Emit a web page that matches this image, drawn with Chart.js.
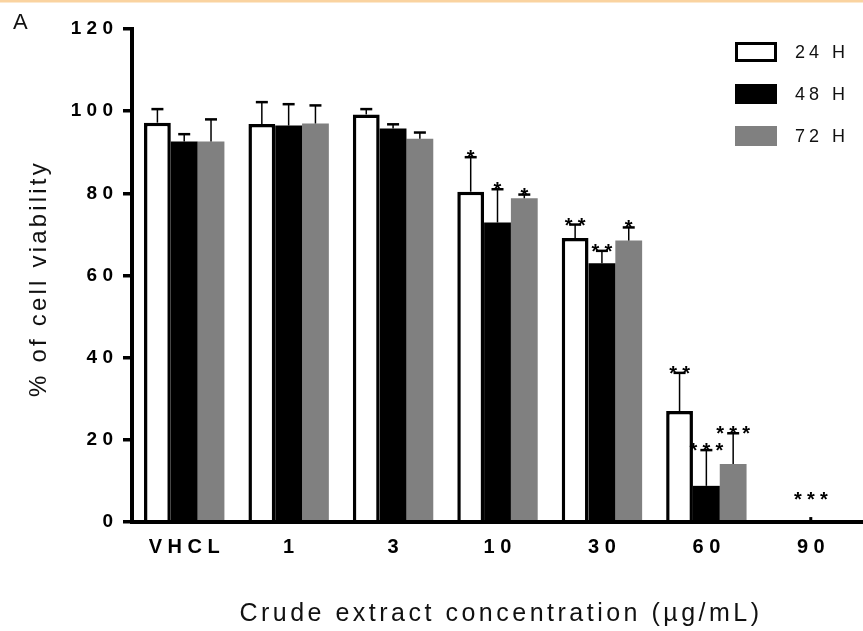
<!DOCTYPE html>
<html>
<head>
<meta charset="utf-8">
<script src="https://cdn.jsdelivr.net/npm/chart.js@4.4.1/dist/chart.umd.min.js"></script>
<style>
  html, body { margin: 0; padding: 0; background: #fff; }
  canvas { display: block; }
</style>
</head>
<body>
<canvas id="myChart" width="863" height="631"></canvas>
<script>
// data
const categories = ['VHCL', '1', '3', '10', '30', '60', '90'];
const seriesNames = ['24 H', '48 H', '72 H'];
const values24 = [97.2, 96.9, 99.2, 80.4, 69.1, 27.0, 0];
const values48 = [92.6, 96.5, 95.8, 72.9, 63.0, 8.8, 0];
const values72 = [92.6, 97.0, 93.3, 78.8, 68.5, 14.1, 0];
const err24 = [3.3, 5.3, 1.3, 8.4, 3.3, 9.3, 0];
const err48 = [1.8, 5.2, 1.0, 8.1, 3.0, 8.7, 1.2];
const err72 = [5.4, 4.4, 1.5, 0.9, 3.2, 7.5, 0];
const stars24 = ['', '', '', '*', '**', '**', ''];
const stars48 = ['', '', '', '*', '**', '***', '***'];
const stars72 = ['', '', '', '*', '*', '***', ''];
const yTicks = [0, 20, 40, 60, 80, 100, 120];

const FONT = "'Liberation Sans', Arial, sans-serif";
const errors = [err24, err48, err72];
const stars = [stars24, stars48, stars72];
const swatches = [
    { fill: '#ffffff', border: '#000000', width: 3 },
    { fill: '#000000', border: '#000000', width: 0 },
    { fill: '#808080', border: '#808080', width: 0 }
];

// error bars, asterisks, legend, titles
const overlay = {
    id: 'overlay',
    beforeDraw(chart) {
        const ctx = chart.ctx;
        ctx.save();
        ctx.fillStyle = '#fad3a0';
        ctx.fillRect(0, 0, chart.width, 2.5);
        ctx.restore();
    },
    afterDatasetsDraw(chart) {
        const ctx = chart.ctx;
        const yScale = chart.scales.y;
        const zeroY = yScale.getPixelForValue(0);
        ctx.save();
        chart.data.datasets.forEach((ds, i) => {
            const meta = chart.getDatasetMeta(i);
            meta.data.forEach((bar, j) => {
                const err = errors[i][j];
                const capY = yScale.getPixelForValue(ds.data[j] + err);
                if (err > 0 && ds.data[j] > 0) {
                    ctx.strokeStyle = '#000';
                    ctx.lineWidth = 1.5;
                    ctx.beginPath();
                    ctx.moveTo(bar.x, bar.y);
                    ctx.lineTo(bar.x, capY);
                    ctx.stroke();
                    ctx.lineWidth = 2.5;
                    ctx.beginPath();
                    ctx.moveTo(bar.x - 6, capY);
                    ctx.lineTo(bar.x + 6, capY);
                    ctx.stroke();
                } else if (err > 0) {
                    // empty bar: only a short stub is visible
                    ctx.strokeStyle = '#000';
                    ctx.lineWidth = 3;
                    ctx.beginPath();
                    ctx.moveTo(bar.x, zeroY);
                    ctx.lineTo(bar.x, capY);
                    ctx.stroke();
                }
                const s = stars[i][j];
                if (s) {
                    const cy = Math.min(capY - 4, zeroY - 27);
                    ctx.fillStyle = '#000';
                    ctx.font = 'bold 20px ' + FONT;
                    ctx.textAlign = 'center';
                    ctx.textBaseline = 'alphabetic';
                    for (let k = 0; k < s.length; k++) {
                        const sx = bar.x + (k - (s.length - 1) / 2) * 13;
                        ctx.fillText('*', sx, cy + 11);
                    }
                }
            });
        });
        ctx.restore();
    },
    afterDraw(chart) {
        const ctx = chart.ctx;
        const area = chart.chartArea;
        ctx.save();
        if ('letterSpacing' in ctx) ctx.letterSpacing = '0px';

        // panel letter
        ctx.fillStyle = '#111';
        ctx.font = '22px ' + FONT;
        ctx.textAlign = 'left';
        ctx.textBaseline = 'alphabetic';
        ctx.fillText('A', 13, 29);

        // legend
        seriesNames.forEach((name, i) => {
            const sw = swatches[i];
            const bx = 735, by = 42 + i * 42;
            ctx.fillStyle = sw.fill;
            ctx.fillRect(bx, by, 42, 20);
            if (sw.width) {
                ctx.strokeStyle = sw.border;
                ctx.lineWidth = sw.width;
                ctx.strokeRect(bx + sw.width / 2, by + sw.width / 2, 42 - sw.width, 20 - sw.width);
            }
            ctx.fillStyle = '#111';
            ctx.font = '18px ' + FONT;
            if ('letterSpacing' in ctx) ctx.letterSpacing = '4px';
            ctx.textAlign = 'left';
            ctx.textBaseline = 'middle';
            ctx.fillText(name, 795, by + 11);
        });

        // x title
        ctx.font = '25px ' + FONT;
        if ('letterSpacing' in ctx) ctx.letterSpacing = '3.5px';
        ctx.textAlign = 'center';
        ctx.textBaseline = 'middle';
        ctx.fillStyle = '#111';
        ctx.fillText('Crude extract concentration (\u00b5g/mL)', 501, 614);

        // y title
        ctx.font = '24px ' + FONT;
        if ('letterSpacing' in ctx) ctx.letterSpacing = '3.2px';
        ctx.translate(39, (area.top + area.bottom) / 2 + 3);
        ctx.rotate(-Math.PI / 2);
        ctx.fillText('% of cell viability', 0, 0);
        ctx.restore();
    }
};

const ctx = document.getElementById('myChart').getContext('2d');

new Chart(ctx, {
    type: 'bar',
    data: {
        labels: categories,
        datasets: [
            { label: seriesNames[0], data: values24, backgroundColor: '#ffffff', borderColor: '#000000', borderWidth: 3.5 },
            { label: seriesNames[1], data: values48, backgroundColor: '#000000', borderWidth: 0 },
            { label: seriesNames[2], data: values72, backgroundColor: '#808080', borderWidth: 0 }
        ]
    },
    options: {
        responsive: false,
        animation: false,
        devicePixelRatio: 1,
        categoryPercentage: 0.77,
        barPercentage: 1.0,
        layout: { padding: { top: 29, right: -11, bottom: 0, left: 0 } },
        plugins: {
            legend: { display: false },
            tooltip: { enabled: false }
        },
        scales: {
            x: {
                grid: { display: false, drawTicks: false },
                border: { display: true, color: '#000', width: 4, z: 1 },
                ticks: {
                    color: '#000',
                    padding: 13,
                    font: { family: FONT, size: 20, weight: 'bold' },
                    callback: function (value, index) {
                        return categories[index].split('').join(' ');
                    }
                },
                afterFit: function (scale) { scale.height = 109; }
            },
            y: {
                min: 0,
                max: 120,
                afterBuildTicks: function (scale) {
                    scale.ticks = yTicks.map(v => ({ value: v }));
                },
                grid: { drawOnChartArea: false, drawTicks: true, tickLength: 9, lineWidth: 3.5, color: '#000' },
                border: { display: true, color: '#000', width: 4 },
                ticks: {
                    color: '#000',
                    padding: 10,
                    font: { family: FONT, size: 19, weight: 'bold' },
                    callback: function (value) {
                        return String(value).split('').join(' ');
                    }
                },
                afterFit: function (scale) { scale.width = 132; }
            }
        }
    },
    plugins: [overlay]
});
</script>
</body>
</html>
